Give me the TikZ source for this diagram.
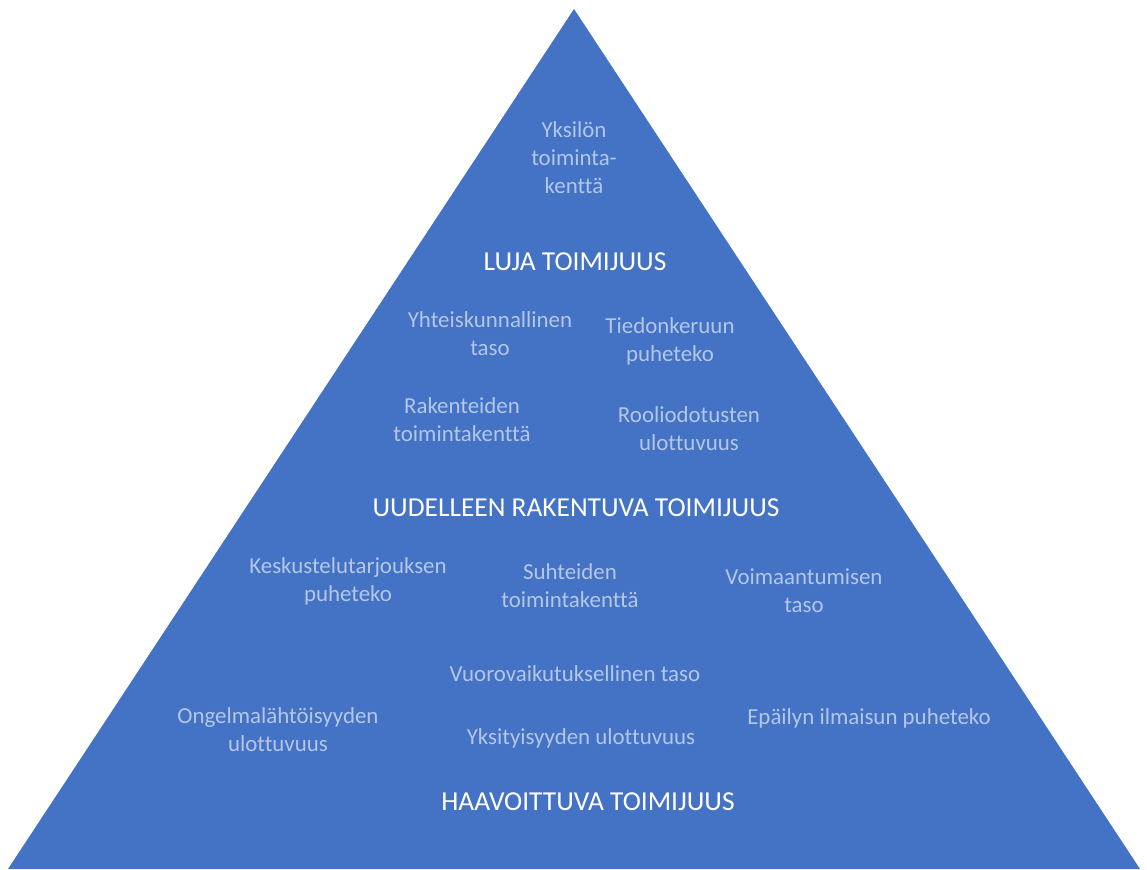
\documentclass[tikz,border=0pt]{standalone}
\usepackage{fontspec}
\setmainfont{Carlito}[Ligatures=NoCommon]
\usepackage{tikz}
\definecolor{pyrblue}{HTML}{4472C4}
\definecolor{pyrtext}{HTML}{B4C7E7}

\begin{document}
\begin{tikzpicture}[x=1pt, y=-1pt,
  levelhead/.style={font=\fontsize{27.4}{33}\selectfont, text=white, align=center, inner sep=0pt},
  facet/.style={font=\fontsize{22.9}{28}\selectfont, text=pyrtext, align=center, inner sep=0pt},
]
% canvas in px of the 1147 x 869 page, y runs downwards
\useasboundingbox (0,0) rectangle (1147,869);
\coordinate (apex) at (574,9);
\coordinate (baseR) at (1140,869);
\coordinate (baseL) at (8,869);
\fill[pyrblue] (apex) -- (baseR) -- (baseL) -- cycle;

% top level
\node[facet] (yksilo) at (574,158) {Yksilön\\toiminta-\\kenttä};
\node[levelhead] (luja) at (575,262) {LUJA TOIMIJUUS};

% middle level
\node[facet] (yhteis) at (490,334) {Yhteiskunnallinen\\taso};
\node[facet] (tiedon) at (670,341) {Tiedonkeruun\\puheteko};
\node[facet] (rakent) at (462,420) {Rakenteiden\\toimintakenttä};
\node[facet] (roolio) at (689,429) {Rooliodotusten\\ulottuvuus};
\node[levelhead] (uudel) at (576,508) {UUDELLEEN RAKENTUVA TOIMIJUUS};

% bottom level
\node[facet] (keskus) at (348,581) {Keskustelutarjouksen\\puheteko};
\node[facet] (suhte) at (570,586) {Suhteiden\\toimintakenttä};
\node[facet] (voima) at (804,591) {Voimaantumisen\\taso};
\node[facet] (vuoro) at (575,674) {Vuorovaikutuksellinen taso};
\node[facet] (ongel) at (278,730) {Ongelmalähtöisyyden\\ulottuvuus};
\node[facet] (yksit) at (581,738) {Yksityisyyden ulottuvuus};
\node[facet] (epail) at (869,718) {Epäilyn ilmaisun puheteko};
\node[levelhead] (haavo) at (588,802) {HAAVOITTUVA TOIMIJUUS};
\end{tikzpicture}
\end{document}
